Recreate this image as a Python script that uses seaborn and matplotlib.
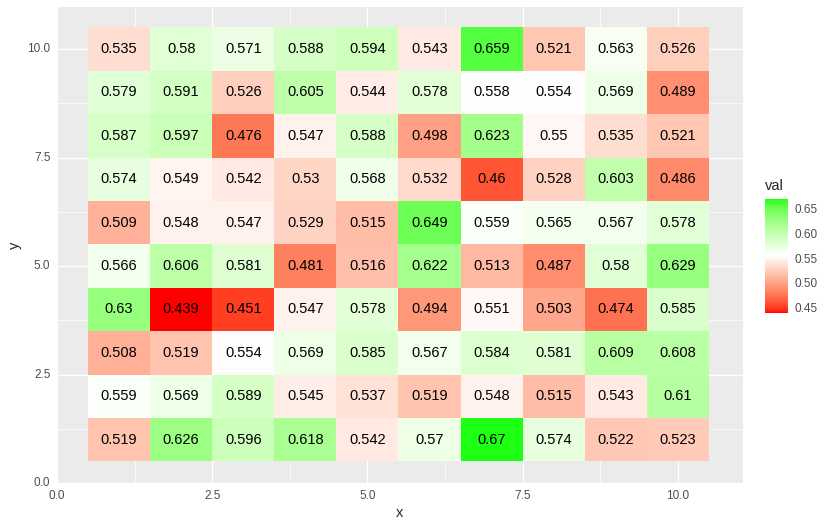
import numpy as np
import pandas as pd
import matplotlib
matplotlib.use("Agg")
import matplotlib.pyplot as plt
import seaborn as sns
from matplotlib.colors import ListedColormap

# grid values, one list per y row (y = 1 .. 10), x = 1 .. 10
x_vals = list(range(1, 11))
y_vals = list(range(1, 11))
val_rows = [
    [0.519, 0.626, 0.596, 0.618, 0.542, 0.570, 0.670, 0.574, 0.522, 0.523],  # y=1
    [0.559, 0.569, 0.589, 0.545, 0.537, 0.519, 0.548, 0.515, 0.543, 0.610],  # y=2
    [0.508, 0.519, 0.554, 0.569, 0.585, 0.567, 0.584, 0.581, 0.609, 0.608],  # y=3
    [0.630, 0.439, 0.451, 0.547, 0.578, 0.494, 0.551, 0.503, 0.474, 0.585],  # y=4
    [0.566, 0.606, 0.581, 0.481, 0.516, 0.622, 0.513, 0.487, 0.580, 0.629],  # y=5
    [0.509, 0.548, 0.547, 0.529, 0.515, 0.649, 0.559, 0.565, 0.567, 0.578],  # y=6
    [0.574, 0.549, 0.542, 0.530, 0.568, 0.532, 0.460, 0.528, 0.603, 0.486],  # y=7
    [0.587, 0.597, 0.476, 0.547, 0.588, 0.498, 0.623, 0.550, 0.535, 0.521],  # y=8
    [0.579, 0.591, 0.526, 0.605, 0.544, 0.578, 0.558, 0.554, 0.569, 0.489],  # y=9
    [0.535, 0.580, 0.571, 0.588, 0.594, 0.543, 0.659, 0.521, 0.563, 0.526],  # y=10
]
x_ticks = [0.0, 2.5, 5.0, 7.5, 10.0]
x_tick_labels = ["0.0", "2.5", "5.0", "7.5", "10.0"]
minor_ticks = [1.25, 3.75, 6.25, 8.75]
cbar_ticks = [0.45, 0.50, 0.55, 0.60, 0.65]

df = pd.DataFrame(val_rows, index=y_vals, columns=x_vals)

# --- red / white / green diverging ramp interpolated in CIELAB (like ggplot) ---
M = np.array([[0.4124, 0.3576, 0.1805],
              [0.2126, 0.7152, 0.0722],
              [0.0193, 0.1192, 0.9505]])
WHITE_PT = np.array([0.95047, 1.0, 1.08883])


def to_lab(rgb):
    c = np.asarray(rgb, float)
    c = np.where(c <= 0.04045, c / 12.92, ((c + 0.055) / 1.055) ** 2.4)
    xyz = M @ c / WHITE_PT
    f = np.where(xyz > 216 / 24389, np.cbrt(xyz), (24389 / 27 * xyz + 16) / 116)
    return np.array([116 * f[1] - 16, 500 * (f[0] - f[1]), 200 * (f[1] - f[2])])


def from_lab(lab):
    L, a, b = lab
    fy = (L + 16) / 116
    f = np.array([fy + a / 500, fy, fy - b / 200])
    xyz = np.where(f ** 3 > 216 / 24389, f ** 3, (116 * f - 16) / (24389 / 27)) * WHITE_PT
    c = np.clip(np.linalg.inv(M) @ xyz, 0, 1)
    c = np.where(c <= 0.0031308, 12.92 * c, 1.055 * c ** (1 / 2.4) - 0.055)
    return np.clip(c, 0, 1)


low, mid_col, high = to_lab([1, 0, 0]), to_lab([1, 1, 1]), to_lab([0, 1, 0])
values = df.to_numpy()
vmin, vmax = values.min(), values.max()
midpoint = values.mean()
spread = max(abs(vmin - midpoint), abs(vmax - midpoint))

colors = []
for v in np.linspace(vmin, vmax, 256):
    t = (v - midpoint) / spread / 2 + 0.5
    if t < 0.5:
        lab = low + (mid_col - low) * (t / 0.5)
    else:
        lab = mid_col + (high - mid_col) * ((t - 0.5) / 0.5)
    colors.append(from_lab(lab))
cmap = ListedColormap(colors)

# --- plot ---
sns.set_theme(style="darkgrid", rc={"axes.facecolor": "#EBEBEB"})
plt.rcParams["font.family"] = ["Liberation Sans", "DejaVu Sans"]

fig = plt.figure(figsize=(8.34, 5.27), dpi=100)
ax = fig.add_axes([57 / 834, 1 - 483 / 527, (743 - 57) / 834, (483 - 7) / 527])
cax = fig.add_axes([765 / 834, 1 - 313 / 527, 23 / 834, 114 / 527])

sns.heatmap(
    df,
    ax=ax,
    cbar_ax=cax,
    cmap=cmap,
    vmin=vmin,
    vmax=vmax,
    annot=True,
    fmt="g",
    annot_kws={"color": "black", "fontsize": 10.5},
    linewidths=0,
)

# heatmap cell i spans [i, i+1]; tile centre sits at value i+1, so shift by 0.5
ax.set_xlim(-0.5, 10.55)
ax.set_ylim(-0.5, 10.47)
ax.set_xticks([t - 0.5 for t in x_ticks])
ax.set_xticklabels(x_tick_labels, rotation=0)
ax.set_yticks([t - 0.5 for t in x_ticks])
ax.set_yticklabels(x_tick_labels, rotation=0)
ax.set_xticks([t - 0.5 for t in minor_ticks], minor=True)
ax.set_yticks([t - 0.5 for t in minor_ticks], minor=True)
ax.set_axisbelow(True)
ax.grid(which="major", color="white", linewidth=1.0)
ax.grid(which="minor", color="white", linewidth=0.5)
for sp in ax.spines.values():
    sp.set_visible(False)
ax.tick_params(which="major", length=2.7, width=0.8, color="#333333",
               labelsize=8.45, labelcolor="#4D4D4D", pad=2)
ax.tick_params(which="minor", length=0)
ax.set_xlabel("x", fontsize=10.5, labelpad=3)
ax.set_ylabel("y", fontsize=10.5, labelpad=4)

cbar = ax.collections[0].colorbar
cbar.outline.set_visible(False)
cbar.set_ticks(cbar_ticks)
cbar.set_ticklabels([f"{t:.2f}" for t in cbar_ticks])
cax.grid(False)
cax.tick_params(axis="y", which="major", direction="in", length=4.5, width=0.8,
                color="white", left=True, right=True, labelleft=False, labelright=True,
                labelsize=8.45, labelcolor="#4D4D4D", pad=5)
cax.tick_params(axis="y", which="minor", length=0)
fig.text(765 / 834, 1 - 186 / 527, "val", fontsize=10.5, ha="left", va="center")

fig.savefig("out.png", dpi=100)
